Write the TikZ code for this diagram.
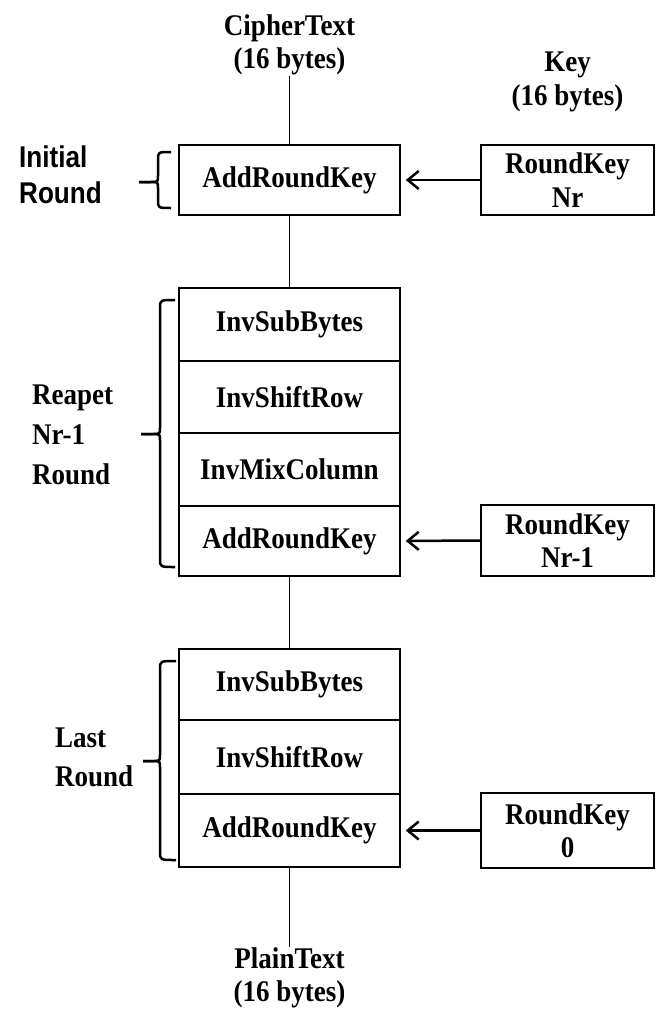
\documentclass[tikz,border=0pt]{standalone}
\usepackage{fontspec}
\setmainfont[FakeStretch=0.9]{Liberation Serif}
\newfontfamily\arialf[FakeStretch=0.87]{Liberation Sans}
\usetikzlibrary{arrows.meta}
\newcommand\lab{\fontsize{30}{33.5}\selectfont\bfseries}
\begin{document}
\begin{tikzpicture}[x=1pt,y=-1pt,
  box/.style={draw, line width=1.5pt, minimum width=221pt, inner sep=0pt, font=\lab},
  kbox/.style={draw, line width=1.5pt, minimum width=173pt, inner sep=0pt, align=center, font=\lab},
  txt/.style={inner sep=0pt, align=center, font=\lab},
  side/.style={inner sep=0pt, align=left, anchor=west},
  conn/.style={line width=1.5pt},
  arr/.style={-{Straight Barb[length=11pt,width=18pt]}, line width=2.5pt, shorten >=5pt},
  brc/.style={line width=2.5pt}]
\useasboundingbox (0,0) rectangle (659,1009);
% top labels
\node[txt] (ct) at (289.5,45) {CipherText\\(16 bytes)};
\node[txt] (key) at (567.5,82) {Key\\(16 bytes)};
% initial round
\node[box, minimum height=70pt] (init) at (289.5,180) {AddRoundKey};
\node[kbox, minimum height=70pt] (k0) at (567.5,180) {RoundKey\\Nr};
% repeat rounds
\node[box, minimum height=73pt] (r1) at (289.5,324.5) {InvSubBytes};
\node[box, minimum height=72pt] (r2) at (289.5,397) {InvShiftRow};
\node[box, minimum height=73pt] (r3) at (289.5,469.5) {InvMixColumn};
\node[box, minimum height=70pt] (r4) at (289.5,541) {AddRoundKey};
\node[kbox, minimum height=71pt] (k1) at (567.5,540.5) {RoundKey\\Nr-1};
% last round
\node[box, minimum height=71pt] (l1) at (289.5,684.5) {InvSubBytes};
\node[box, minimum height=74pt] (l2) at (289.5,757) {InvShiftRow};
\node[box, minimum height=73pt] (l3) at (289.5,830.5) {AddRoundKey};
\node[kbox, minimum height=75pt] (k2) at (567.5,830.5) {RoundKey\\0};
% bottom label
\node[txt] (pt) at (289.5,978) {PlainText\\(16 bytes)};
% side labels
\node[side, font=\arialf\fontsize{30}{36}\selectfont\bfseries] (li) at (19,175) {Initial\\Round};
\node[side, font=\fontsize{30}{40}\selectfont\bfseries] (lr) at (32,435) {Reapet\\Nr-1\\Round};
\node[side, font=\fontsize{30}{39}\selectfont\bfseries] (ll) at (55,757.5) {Last\\Round};
% connectors
\draw[conn] (ct.south) -- (init.north);
\draw[conn] (init.south) -- (r1.north);
\draw[conn] (r4.south) -- (l1.north);
\draw[conn] (l3.south) -- (pt.north);
% arrows
\draw[arr] (k0.west) -- (init.east);
\draw[arr] (k1.west) -- (r4.east);
\draw[arr] (k2.west) -- (l3.east);
% braces
\draw[brc] (171,152) .. controls (158,152) .. (158,160) -- (158,176) .. controls (158,182) .. (150,182) -- (139,182);
\draw[brc] (139,182) -- (150,182) .. controls (158,182) .. (158,188) -- (158,200) .. controls (158,208) .. (171,208);
\draw[brc] (175,300) .. controls (160,300) .. (160,308) -- (160,428) .. controls (160,434) .. (152,434) -- (141,434);
\draw[brc] (141,434) -- (152,434) .. controls (160,434) .. (160,440) -- (160,559) .. controls (160,567) .. (175,567);
\draw[brc] (176,661) .. controls (160,661) .. (160,669) -- (160,755) .. controls (160,761) .. (152,761) -- (143,761);
\draw[brc] (143,761) -- (152,761) .. controls (160,761) .. (160,767) -- (160,852) .. controls (160,860) .. (176,860);
\end{tikzpicture}
\end{document}
